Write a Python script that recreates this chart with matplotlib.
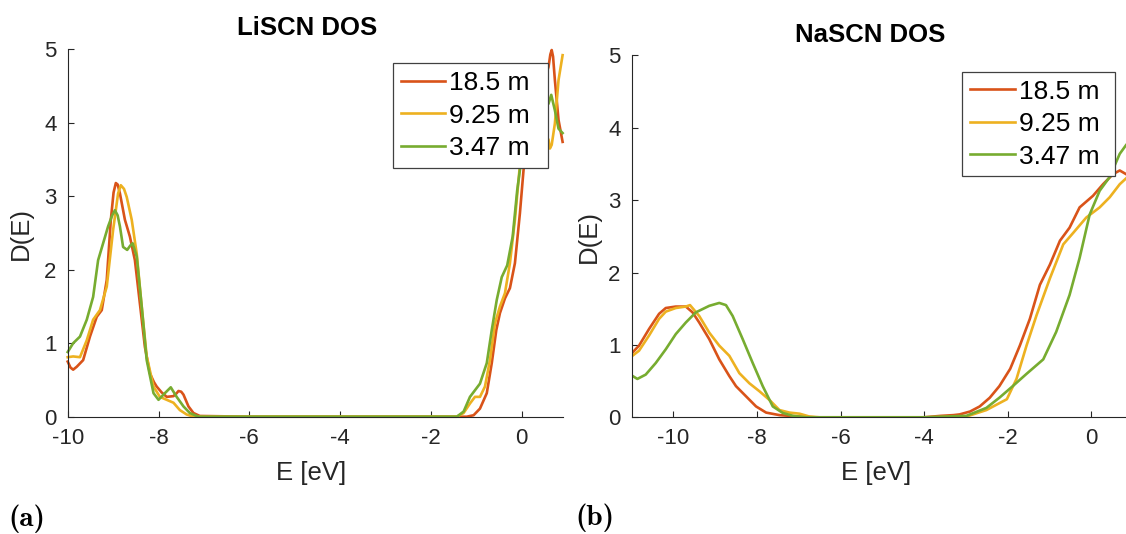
import matplotlib
matplotlib.use("Agg")
import matplotlib.pyplot as plt

# MATLAB default colours used in the reference
RED = "#D95319"
YELLOW = "#EDB120"
GREEN = "#77AC30"

labels = ["18.5 m", "9.25 m", "3.47 m"]

# --- LiSCN DOS (left panel) ---
li_e_185 = [-10.0, -9.94, -9.88, -9.8, -9.66, -9.51, -9.36, -9.25, -9.14, -9.05, -8.99, -8.94, -8.9,
            -8.85, -8.74, -8.63, -8.52, -8.41, -8.3, -8.19, -8.1, -8.04, -7.93, -7.82, -7.67, -7.6,
            -7.56, -7.5, -7.45, -7.34, -7.23, -7.09, -6.0, -4.0, -2.0, -1.21, -1.06, -0.92, -0.77,
            -0.66, -0.56, -0.48, -0.37, -0.26, -0.15, -0.04, 0.04, 0.2, 0.4, 0.59, 0.63, 0.66, 0.69,
            0.73, 0.81, 0.9]
li_d_185 = [0.75, 0.67, 0.64, 0.68, 0.77, 1.09, 1.36, 1.45, 1.86, 2.68, 3.05, 3.18, 3.16,
            3.04, 2.68, 2.45, 2.13, 1.54, 0.95, 0.59, 0.47, 0.41, 0.33, 0.27, 0.28, 0.32,
            0.35, 0.34, 0.3, 0.14, 0.05, 0.01, 0.0, 0.0, 0.0, 0.0, 0.02, 0.11, 0.32,
            0.73, 1.18, 1.41, 1.61, 1.75, 2.09, 2.77, 3.36, 4.0, 4.4, 4.76, 4.93, 4.99, 4.9,
            4.58, 4.04, 3.74]

li_e_925 = [-10.0, -9.88, -9.73, -9.58, -9.44, -9.29, -9.14, -9.0, -8.89, -8.83, -8.76, -8.7, -8.59,
            -8.48, -8.37, -8.26, -8.11, -7.97, -7.82, -7.67, -7.53, -7.38, -7.23, -6.0, -4.0,
            -2.0, -1.43, -1.28, -1.14, -1.03, -0.92, -0.81, -0.7, -0.59, -0.48, -0.37, -0.26,
            -0.15, -0.05, 0.2, 0.4, 0.59, 0.62, 0.66, 0.73, 0.81, 0.9]
li_d_925 = [0.81, 0.82, 0.81, 1.04, 1.32, 1.45, 1.77, 2.54, 3.04, 3.15, 3.1, 2.99, 2.68,
            2.22, 1.5, 0.82, 0.41, 0.27, 0.23, 0.19, 0.09, 0.03, 0.0, 0.0, 0.0,
            0.0, 0.0, 0.05, 0.18, 0.27, 0.27, 0.41, 0.77, 1.27, 1.5, 1.68, 2.09,
            2.68, 3.36, 3.8, 3.95, 3.77, 3.65, 3.7, 3.99, 4.58, 4.92]

li_e_347 = [-10.0, -9.88, -9.73, -9.58, -9.44, -9.33, -9.22, -9.11, -9.02, -8.96, -8.9, -8.85, -8.78,
            -8.69, -8.62, -8.57, -8.48, -8.37, -8.26, -8.11, -8.0, -7.86, -7.73, -7.6, -7.45, -7.31,
            -7.12, -6.0, -4.0, -2.0, -1.43, -1.28, -1.14, -1.03, -0.92, -0.77, -0.66, -0.55, -0.44,
            -0.32, -0.2, -0.1, -0.02, 0.2, 0.4, 0.59, 0.65, 0.73, 0.81, 0.9]
li_d_347 = [0.88, 1.0, 1.09, 1.32, 1.63, 2.13, 2.36, 2.59, 2.74, 2.81, 2.74, 2.59, 2.31,
            2.27, 2.33, 2.36, 2.18, 1.5, 0.77, 0.32, 0.23, 0.32, 0.4, 0.27, 0.14, 0.05,
            0.0, 0.0, 0.0, 0.0, 0.0, 0.07, 0.27, 0.36, 0.45, 0.73, 1.18, 1.59, 1.9,
            2.06, 2.45, 3.08, 3.45, 3.9, 4.15, 4.26, 4.38, 4.17, 3.92, 3.86]

# --- NaSCN DOS (right panel) ---
na_e_185 = [-11.0, -10.82, -10.58, -10.34, -10.18, -9.94, -9.7, -9.54, -9.38, -9.14, -8.9, -8.66,
            -8.5, -8.26, -8.02, -7.78, -7.46, -6.98, -6.6, -4.0, -3.6, -3.3, -3.15, -2.9,
            -2.67, -2.43, -2.2, -1.94, -1.71, -1.47, -1.23, -0.99, -0.75, -0.52, -0.28, 0.04,
            0.28, 0.52, 0.68, 0.83]
na_d_185 = [0.88, 0.99, 1.22, 1.43, 1.51, 1.53, 1.53, 1.45, 1.31, 1.08, 0.8, 0.57,
            0.43, 0.29, 0.15, 0.065, 0.03, 0.01, 0.0, 0.0, 0.02, 0.03, 0.04, 0.08,
            0.15, 0.27, 0.43, 0.67, 0.99, 1.36, 1.83, 2.11, 2.44, 2.62, 2.9, 3.06,
            3.22, 3.36, 3.41, 3.36]

na_e_925 = [-11.0, -10.82, -10.58, -10.34, -10.18, -9.94, -9.7, -9.6, -9.38, -9.14, -8.9, -8.66,
            -8.42, -8.18, -7.94, -7.7, -7.46, -7.22, -6.98, -6.74, -6.5, -4.0, -2.99, -2.51,
            -2.02, -1.79, -1.55, -1.31, -0.99, -0.67, -0.43, -0.12, 0.2, 0.44, 0.68, 0.83]
na_d_925 = [0.84, 0.92, 1.13, 1.36, 1.46, 1.51, 1.53, 1.55, 1.4, 1.17, 0.99, 0.85,
            0.61, 0.47, 0.36, 0.24, 0.1, 0.065, 0.05, 0.01, 0.0, 0.0, 0.01, 0.1,
            0.25, 0.53, 0.99, 1.41, 1.92, 2.39, 2.55, 2.76, 2.9, 3.04, 3.22, 3.3]

na_e_347 = [-11.0, -10.86, -10.66, -10.42, -10.18, -9.94, -9.7, -9.46, -9.14, -8.9, -8.74, -8.58,
            -8.34, -8.1, -7.86, -7.62, -7.38, -7.14, -6.82, -4.0, -2.99, -2.51, -2.2, -1.88,
            -1.55, -1.15, -0.84, -0.52, -0.28, -0.04, 0.2, 0.44, 0.68, 0.83]
na_d_347 = [0.58, 0.53, 0.59, 0.75, 0.94, 1.15, 1.31, 1.45, 1.54, 1.58, 1.55, 1.4,
            1.08, 0.75, 0.43, 0.15, 0.06, 0.02, 0.0, 0.0, 0.02, 0.13, 0.27, 0.43,
            0.6, 0.8, 1.18, 1.69, 2.2, 2.8, 3.13, 3.32, 3.64, 3.76]

plt.rcParams["font.family"] = ["Liberation Sans", "DejaVu Sans"]
plt.rcParams["axes.unicode_minus"] = False

W, H = 1126, 534
fig = plt.figure(figsize=(W / 100, H / 100), dpi=100)


# helper to place axes from pixel box (left, top, right, bottom)
def px_axes(l, t, r, b):
    return fig.add_axes([l / W, 1 - b / H, (r - l) / W, (b - t) / H])


def style(ax, xlim, xticks, title, title_x):
    ax.set_xlim(*xlim)
    ax.set_ylim(0, 5)
    ax.set_xticks(xticks)
    ax.set_yticks([0, 1, 2, 3, 4, 5])
    for s in ["top", "right"]:
        ax.spines[s].set_visible(False)
    for s in ["left", "bottom"]:
        ax.spines[s].set_color("#262626")
        ax.spines[s].set_linewidth(0.8)
    ax.tick_params(direction="in", length=4, width=0.8, color="#262626",
                   labelcolor="#262626", labelsize=16, pad=8)
    ax.set_xlabel("E [eV]", fontsize=18.5, color="#262626")
    ax.set_ylabel("D(E)", fontsize=18.5, color="#262626")
    ax.set_title(title, fontsize=18.5, fontweight="bold", x=title_x, pad=10)


# legend box given in pixels (left, top, right), text left aligned like MATLAB
def add_legend(ax, left_px, top_px, right_px):
    leg = ax.legend(labels, loc="upper left",
                    bbox_to_anchor=(left_px / W, 1 - top_px / H, (right_px - left_px) / W, 0),
                    bbox_transform=fig.transFigure, mode="expand", fontsize=19, frameon=True,
                    fancybox=False, framealpha=1, edgecolor="#404040", borderpad=0.3,
                    borderaxespad=0, handlelength=1.7, handletextpad=0.15, labelspacing=0.32)
    leg.get_frame().set_linewidth(0.9)
    leg.set_zorder(5)


# left panel
ax1 = px_axes(67.7, 49.3, 562.6, 416.7)
ax1.plot(li_e_185, li_d_185, color=RED, lw=1.9, clip_on=False)
ax1.plot(li_e_925, li_d_925, color=YELLOW, lw=1.9, clip_on=False)
ax1.plot(li_e_347, li_d_347, color=GREEN, lw=1.9, clip_on=False)
style(ax1, (-10, 0.9), [-10, -8, -6, -4, -2, 0], "LiSCN DOS", 0.483)
ax1.xaxis.set_label_coords(0.491, -0.12)
ax1.yaxis.set_label_coords(-0.07, 0.5)
add_legend(ax1, 392.7, 63.3, 548.3)

# right panel
ax2 = px_axes(631.5, 55.4, 1126, 417.3)
ax2.plot(na_e_185, na_d_185, color=RED, lw=1.9)
ax2.plot(na_e_925, na_d_925, color=YELLOW, lw=1.9)
ax2.plot(na_e_347, na_d_347, color=GREEN, lw=1.9)
style(ax2, (-11, 0.83), [-10, -8, -6, -4, -2, 0], "NaSCN DOS", 0.482)
ax2.xaxis.set_label_coords(0.494, -0.121)
ax2.yaxis.set_label_coords(-0.061, 0.5)
add_legend(ax2, 961.8, 71.7, 1114.5)

# subfigure captions (Computer Modern bold, as in the LaTeX document)
fig.text(8 / W, 1 - 519 / H, "(a)", family=["cmb10", "DejaVu Serif"], fontsize=21,
         va="center", ha="left")
fig.text(575 / W, 1 - 518 / H, "(b)", family=["cmb10", "DejaVu Serif"], fontsize=21,
         va="center", ha="left")

fig.savefig("out.png", dpi=100)
